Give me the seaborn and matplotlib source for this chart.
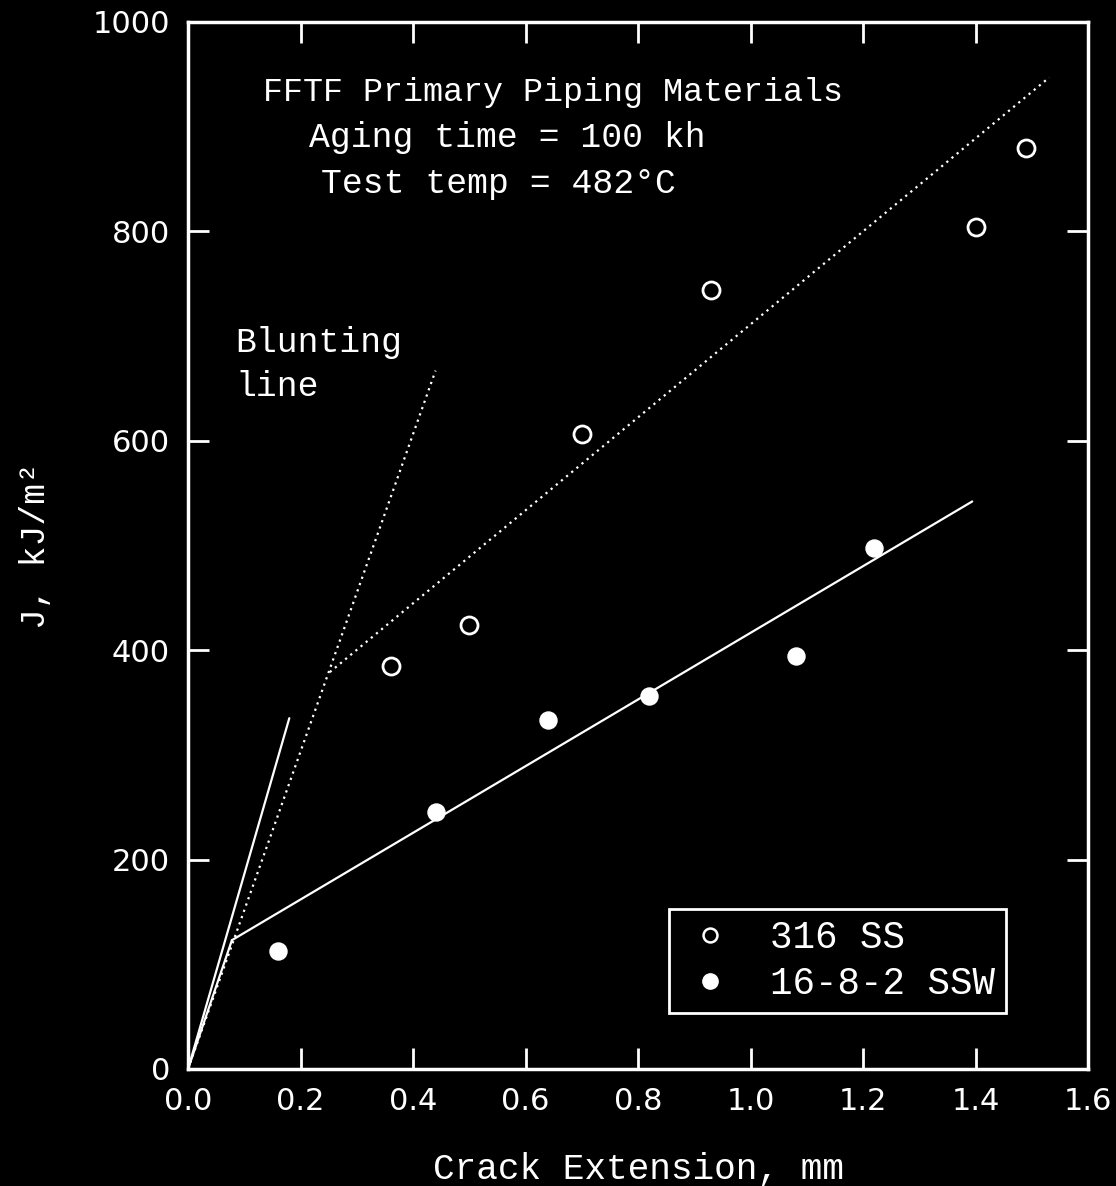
import matplotlib
matplotlib.use("Agg")
import matplotlib.pyplot as plt
import seaborn as sns
import pandas as pd
from matplotlib.lines import Line2D

# ---- data ----
ss316_x = [0.36, 0.50, 0.70, 0.93, 1.40, 1.49]
ss316_y = [385, 424, 606, 744, 804, 880]
ssw_x = [0.16, 0.44, 0.64, 0.82, 1.08, 1.22]
ssw_y = [113, 245, 333, 356, 394, 498]

blunt_solid_x = [0.0, 0.18]
blunt_solid_y = [0, 335]
blunt_dot_x = [0.0, 0.44]
blunt_dot_y = [0, 667]
fit_ssw_x = [0.078, 1.394]
fit_ssw_y = [123, 542]
fit_316_x = [0.252, 1.531]
fit_316_y = [379, 947]

x_ticks = [0.0, 0.2, 0.4, 0.6, 0.8, 1.0, 1.2, 1.4, 1.6]
y_ticks = [0, 200, 400, 600, 800, 1000]
labels = ["316 SS", "16-8-2 SSW"]

sns.set_theme(style="white")
plt.rcParams["font.family"] = ["DejaVu Sans"]
W = "white"
TXT = "Liberation Mono"

fig = plt.figure(figsize=(11.16, 11.86), dpi=100, facecolor="black")
ax = fig.add_axes([0.1685, 0.0987, 0.8065, 0.8828], facecolor="black")

df316 = pd.DataFrame({"x": ss316_x, "y": ss316_y})
dfssw = pd.DataFrame({"x": ssw_x, "y": ssw_y})

# lines
sns.lineplot(x=blunt_solid_x, y=blunt_solid_y, ax=ax, color=W, lw=1.6, sort=False)
sns.lineplot(x=blunt_dot_x, y=blunt_dot_y, ax=ax, color=W, lw=1.6, sort=False,
             linestyle=(0, (1, 2)))
sns.lineplot(x=fit_ssw_x, y=fit_ssw_y, ax=ax, color=W, lw=1.6, sort=False)
sns.lineplot(x=fit_316_x, y=fit_316_y, ax=ax, color=W, lw=1.6, sort=False,
             linestyle=(0, (1, 2)))
# join from origin to the solid fit start
sns.lineplot(x=[blunt_solid_x[0], fit_ssw_x[0]], y=[blunt_solid_y[0], fit_ssw_y[0]],
             ax=ax, color=W, lw=1.6, sort=False)

sns.scatterplot(data=df316, x="x", y="y", ax=ax, s=150, facecolor="black",
                edgecolor=W, linewidth=2, zorder=5)
sns.scatterplot(data=dfssw, x="x", y="y", ax=ax, s=150, color=W,
                edgecolor=W, linewidth=1, zorder=5)

ax.set_xlim(0, 1.6)
ax.set_ylim(0, 1000)
ax.set_xticks(x_ticks)
ax.set_yticks(y_ticks)
ax.set_xticklabels([f"{v:.1f}" for v in x_ticks])
ax.set_yticklabels([str(v) for v in y_ticks])
ax.tick_params(axis="both", which="major", direction="in", length=15, width=2,
               color=W, labelcolor=W, labelsize=22, top=True, right=True,
               bottom=True, left=True, pad=13)
for sp in ax.spines.values():
    sp.set_color(W)
    sp.set_linewidth(2.5)
    sp.set_visible(True)

ax.set_xlabel("Crack Extension, mm", color=W, fontsize=26, family=TXT, labelpad=26)
ax.set_ylabel("J, kJ/m²", color=W, fontsize=25, family=TXT, labelpad=29)

ax.text(0.405, 0.933, "FFTF Primary Piping Materials", transform=ax.transAxes,
        color=W, fontsize=24, family=TXT, ha="center", va="center")
ax.text(0.355, 0.890, "Aging time = 100 kh", transform=ax.transAxes,
        color=W, fontsize=25, family=TXT, ha="center", va="center")
ax.text(0.345, 0.846, "Test temp = 482°C", transform=ax.transAxes,
        color=W, fontsize=25, family=TXT, ha="center", va="center")
ax.text(0.053, 0.673, "Blunting\nline", transform=ax.transAxes,
        color=W, fontsize=25, family=TXT, ha="left", va="center", linespacing=1.4)

handles = [
    Line2D([], [], marker="o", linestyle="none", markersize=10,
           markerfacecolor="black", markeredgecolor=W, markeredgewidth=1.8),
    Line2D([], [], marker="o", linestyle="none", markersize=11,
           markerfacecolor=W, markeredgecolor=W),
]
leg = ax.legend(handles, labels, loc="lower right", bbox_to_anchor=(0.909, 0.0535),
                frameon=True, fancybox=False, facecolor="black", edgecolor=W,
                framealpha=1, prop={"family": TXT, "size": 27}, labelcolor=W,
                handletextpad=0.8, borderpad=0.3, labelspacing=0.25,
                handlelength=1.6, borderaxespad=0)
leg.get_frame().set_linewidth(2)

fig.savefig("out.png", dpi=100, facecolor="black")
